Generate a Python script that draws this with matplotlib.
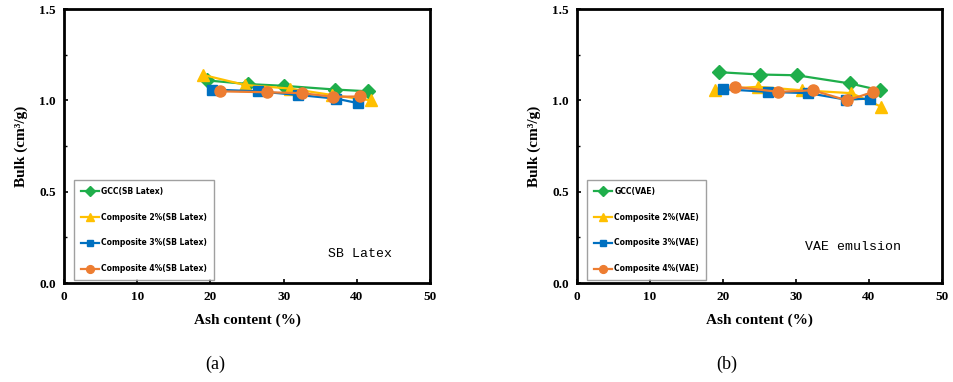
import matplotlib
matplotlib.use('Agg')
import matplotlib.pyplot as plt
from matplotlib.ticker import MultipleLocator

# SB Latex panel data (ash %, bulk cm3/g)
sb_gcc_x = [19.5, 25.1, 30.1, 37.0, 41.6]
sb_gcc_y = [1.11, 1.09, 1.08, 1.06, 1.05]
sb_c2_x = [19.0, 24.7, 30.9, 36.6, 42.0]
sb_c2_y = [1.14, 1.085, 1.065, 1.03, 1.00]
sb_c3_x = [20.2, 26.5, 32.0, 37.2, 40.2]
sb_c3_y = [1.06, 1.05, 1.03, 1.01, 0.985]
sb_c4_x = [21.3, 27.7, 32.5, 36.8, 40.4]
sb_c4_y = [1.05, 1.045, 1.04, 1.02, 1.022]

# VAE panel data
vae_gcc_x = [19.4, 25.1, 30.1, 37.4, 41.5]
vae_gcc_y = [1.155, 1.142, 1.138, 1.093, 1.056]
vae_c2_x = [18.9, 24.8, 30.8, 37.6, 41.7]
vae_c2_y = [1.06, 1.075, 1.056, 1.04, 0.965]
vae_c3_x = [20.0, 26.2, 31.7, 36.8, 40.1]
vae_c3_y = [1.062, 1.047, 1.04, 1.005, 1.01]
vae_c4_x = [21.6, 27.6, 32.3, 37.0, 40.6]
vae_c4_y = [1.075, 1.047, 1.056, 1.0, 1.047]

colors = ['#1fae4b', '#ffc000', '#0070c0', '#ed7d31']
markers = ['D', '^', 's', 'o']
msizes = [7, 8, 7, 8]

serif = 'Liberation Serif'

fig = plt.figure(figsize=(9.54, 3.82), dpi=100)


def panel(rect, series, names, note, note_pos, tag, tag_x):
    ax = fig.add_axes(rect)
    for (xs, ys), name, c, m, ms in zip(series, names, colors, markers, msizes):
        ax.plot(xs, ys, color=c, marker=m, markersize=ms, lw=1.6, label=name)
    ax.set_xlim(0, 50)
    ax.set_ylim(0, 1.5)
    ax.xaxis.set_major_locator(MultipleLocator(10))
    ax.yaxis.set_major_locator(MultipleLocator(0.5))
    ax.yaxis.set_minor_locator(MultipleLocator(0.25))
    ax.yaxis.set_major_formatter(matplotlib.ticker.FormatStrFormatter('%.1f'))
    ax.tick_params(direction='in', length=3, width=1.2, labelsize=9.5, pad=6)
    ax.tick_params(which='minor', direction='in', length=2, width=1)
    for lab in ax.get_xticklabels() + ax.get_yticklabels():
        lab.set_fontfamily(serif)
        lab.set_fontweight('bold')
    for s in ax.spines.values():
        s.set_linewidth(2)
    ax.set_xlabel('Ash content (%)', fontfamily=serif, fontweight='bold', fontsize=11, labelpad=7)
    ax.set_ylabel('Bulk (cm³/g)', fontfamily=serif, fontweight='bold', fontsize=11, labelpad=8)
    leg = ax.legend(loc='lower left', bbox_to_anchor=(0.027, 0.011), borderaxespad=0,
                    fontsize=5.5, labelspacing=2.2, handlelength=2.4, handletextpad=0.3,
                    markerscale=0.7, fancybox=False, edgecolor='#888888', borderpad=0.9)
    leg.get_frame().set_linewidth(1.0)
    for t in leg.get_texts():
        t.set_fontweight('bold')
    ax.text(note_pos[0], note_pos[1], note, transform=ax.transAxes, ha='center', va='center',
            fontfamily='Liberation Mono', fontsize=9.5)
    fig.text(tag_x, 0.045, tag, ha='center', va='center', fontfamily=serif, fontsize=13)
    return ax


panel([0.0671, 0.259, 0.3836, 0.717],
      [(sb_gcc_x, sb_gcc_y), (sb_c2_x, sb_c2_y), (sb_c3_x, sb_c3_y), (sb_c4_x, sb_c4_y)],
      ['GCC(SB Latex)', 'Composite 2%(SB Latex)', 'Composite 3%(SB Latex)', 'Composite 4%(SB Latex)'],
      'SB Latex', (0.809, 0.106), '(a)', 215 / 954)

panel([0.6048, 0.259, 0.3826, 0.717],
      [(vae_gcc_x, vae_gcc_y), (vae_c2_x, vae_c2_y), (vae_c3_x, vae_c3_y), (vae_c4_x, vae_c4_y)],
      ['GCC(VAE)', 'Composite 2%(VAE)', 'Composite 3%(VAE)', 'Composite 4%(VAE)'],
      'VAE emulsion', (0.756, 0.131), '(b)', 727 / 954)

fig.savefig('out.png', dpi=100)
